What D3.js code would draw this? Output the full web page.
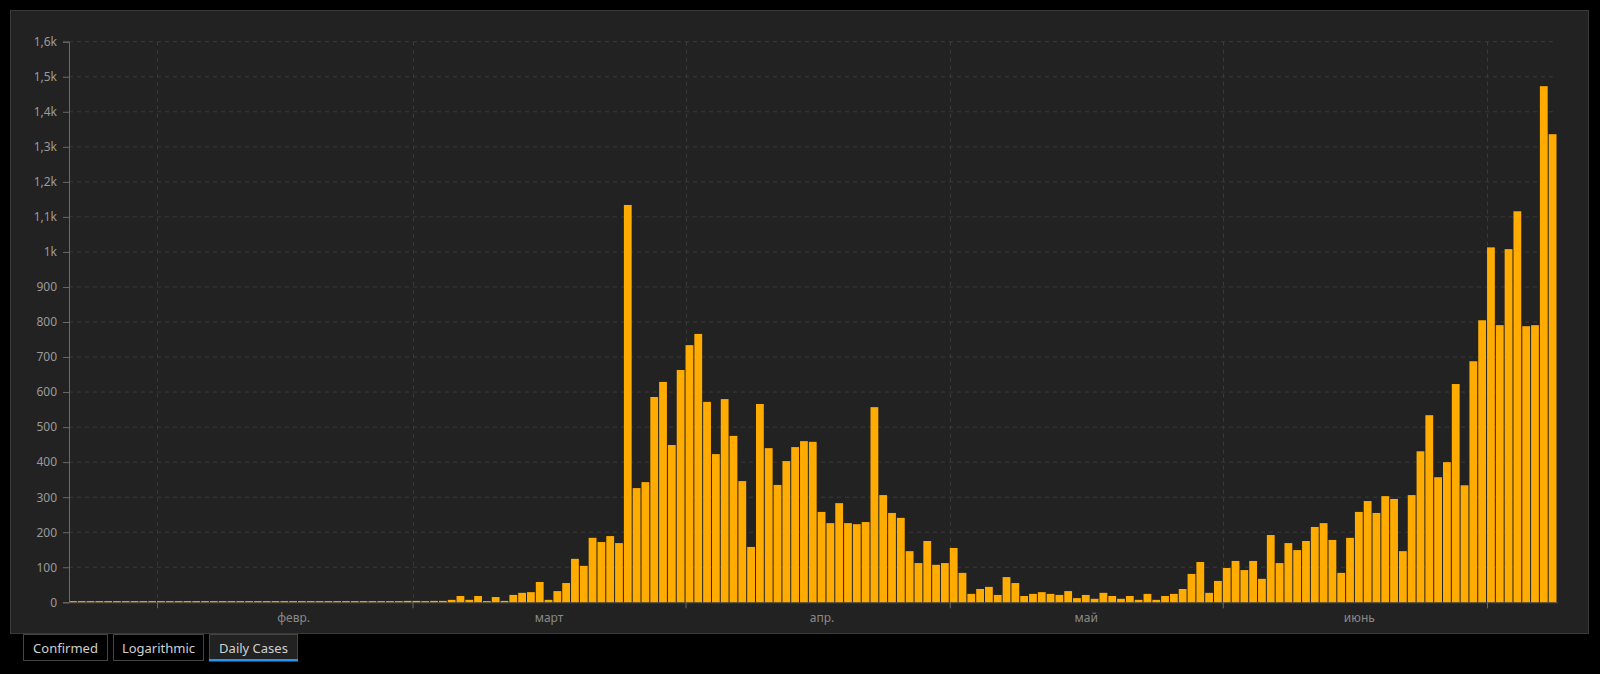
<!DOCTYPE html>
<html>
<head>
<meta charset="utf-8">
<script src="https://cdn.jsdelivr.net/npm/d3@7/dist/d3.min.js"></script>
<style>
  html, body { margin: 0; padding: 0; background: #000; }
  svg { display: block; }
  text { font-family: "Noto Sans", "Open Sans", sans-serif; }
</style>
</head>
<body>
<svg id="chart" width="1600" height="674"></svg>
<script>
// ---- data ----
const startDate = "2020-01-22";
const dailyCases = [
  0,0,0,0,0,0,0,0,0,0,
  0,0,0,0,0,0,0,0,0,0,
  0,0,0,0,0,0,0,0,0,0,
  0,0,0,0,0,0,0,0,
  4,4,2,4,4,7,18,7,18,1,
  15,4,21,27,29,58,7,32,55,124,
  104,184,172,189,169,1134,326,343,586,629,
  449,663,734,766,572,423,580,475,346,158,
  566,440,335,403,443,460,458,258,226,283,
  226,223,229,557,306,255,241,146,112,175,
  107,112,155,84,24,38,44,21,72,55,
  18,24,29,24,21,32,12,21,10,27,
  18,10,18,7,24,7,18,24,38,81,
  115,27,61,98,118,92,118,67,192,112,
  169,149,175,215,226,178,84,184,258,289,
  255,303,295,146,306,431,534,357,400,623,
  334,688,805,1013,791,1008,1116,788,791,1473,
  1336
];
const monthStarts = ["2020-02-01","2020-03-01","2020-04-01","2020-05-01","2020-06-01","2020-07-01"];
const monthLabelDates = ["2020-02-16","2020-03-16","2020-04-16","2020-05-16","2020-06-16"];
const monthLabels = ["февр.","март","апр.","май","июнь"];
const yTickValues = [0,100,200,300,400,500,600,700,800,900,1000,1100,1200,1300,1400,1500,1600];
const yTickLabels = ["0","100","200","300","400","500","600","700","800","900","1k","1,1k","1,2k","1,3k","1,4k","1,5k","1,6k"];
const buttonLabels = ["Confirmed","Logarithmic","Daily Cases"];
const activeButton = "Daily Cases";

// ---- setup ----
const parse = d3.utcParse("%Y-%m-%d");
const d0 = parse(startDate);
const dates = dailyCases.map((_, i) => d3.utcDay.offset(d0, i));
const dEnd = d3.utcDay.offset(d0, dailyCases.length);

const svg = d3.select("#chart");
const L = 69, R = 1557.5, T = 41.7, B = 602.3;

// panel
svg.append("rect").attr("x", 10.5).attr("y", 10.5).attr("width", 1578).attr("height", 623)
  .attr("fill", "#222222").attr("stroke", "#3a3a3a").attr("stroke-width", 1);

const x = d3.scaleUtc().domain([d0, dEnd]).range([L, R]);
const y = d3.scaleLinear().domain([0, 1600]).range([B, T]);

// horizontal grid
svg.append("g").selectAll("line").data(yTickValues.slice(1)).join("line")
  .attr("x1", L).attr("x2", 1556).attr("y1", d => y(d)).attr("y2", d => y(d))
  .attr("stroke", "#3a3a3a").attr("stroke-dasharray", "4,4");

// vertical grid
svg.append("g").selectAll("line").data(monthStarts.map(parse)).join("line")
  .attr("x1", d => Math.round(x(d)) + 0.5).attr("x2", d => Math.round(x(d)) + 0.5)
  .attr("y1", T).attr("y2", B)
  .attr("stroke", "#3a3a3a").attr("stroke-dasharray", "4,4");

// bars
const bw = x(d3.utcDay.offset(d0, 1)) - x(d0);
svg.append("g").selectAll("rect").data(dailyCases).join("rect")
  .attr("x", (d, i) => x(dates[i]))
  .attr("width", bw - 1)
  .attr("y", d => Math.min(y(d), B - 1.2))
  .attr("height", d => Math.max(B - y(d), 1.2))
  .attr("fill", "#FFAB00");

// y axis
const yAxis = d3.axisLeft(y).tickValues(yTickValues)
  .tickFormat((d, i) => yTickLabels[i]).tickSize(6).tickPadding(6);
const gy = svg.append("g").attr("transform", `translate(${L},0)`).call(yAxis);
gy.select(".domain").attr("stroke", "#6a6a6a");
gy.selectAll(".tick line").attr("stroke", "#6a6a6a");
gy.selectAll(".tick text").attr("fill", "#9a9a9a").style("font-size", "12px")
  .style("font-family", '"Noto Sans", sans-serif');

// x axis (month boundaries as ticks, labels mid-month)
const xAxis = d3.axisBottom(x).tickValues(monthStarts.map(parse)).tickFormat("").tickSize(6).tickSizeOuter(0);
const gx = svg.append("g").attr("transform", `translate(0,${B})`).call(xAxis);
gx.select(".domain").attr("stroke", "#6a6a6a").attr("stroke-opacity", 0.6);
gx.selectAll(".tick line").attr("stroke", "#6a6a6a");

svg.append("g").selectAll("text").data(monthLabelDates).join("text")
  .attr("x", d => x(d3.utcHour.offset(parse(d), 12)))
  .attr("y", 622)
  .attr("text-anchor", "middle")
  .attr("fill", "#8a8a8a")
  .style("font-size", "12px")
  .text((d, i) => monthLabels[i]);

// buttons
const btnX = [23, 113, 209];
const btnW = [84, 90, 88];
const btn = svg.append("g").selectAll("g").data(buttonLabels).join("g");
btn.append("rect")
  .attr("x", (d, i) => btnX[i] + 0.5).attr("y", 634.5)
  .attr("width", (d, i) => btnW[i]).attr("height", 26)
  .attr("fill", d => d === activeButton ? "#222222" : "#000")
  .attr("stroke", "#444");
btn.filter(d => d === activeButton).append("rect")
  .attr("x", (d) => btnX[buttonLabels.indexOf(d)]).attr("y", 659)
  .attr("width", (d) => btnW[buttonLabels.indexOf(d)] + 1).attr("height", 2.5)
  .attr("fill", "#2196F3");
btn.append("text")
  .attr("x", (d, i) => btnX[i] + btnW[i] / 2 + 0.5)
  .attr("y", 652.5)
  .attr("text-anchor", "middle")
  .attr("fill", "#d0d0d0")
  .style("font-size", "13px")
  .text(d => d);
</script>
</body>
</html>
